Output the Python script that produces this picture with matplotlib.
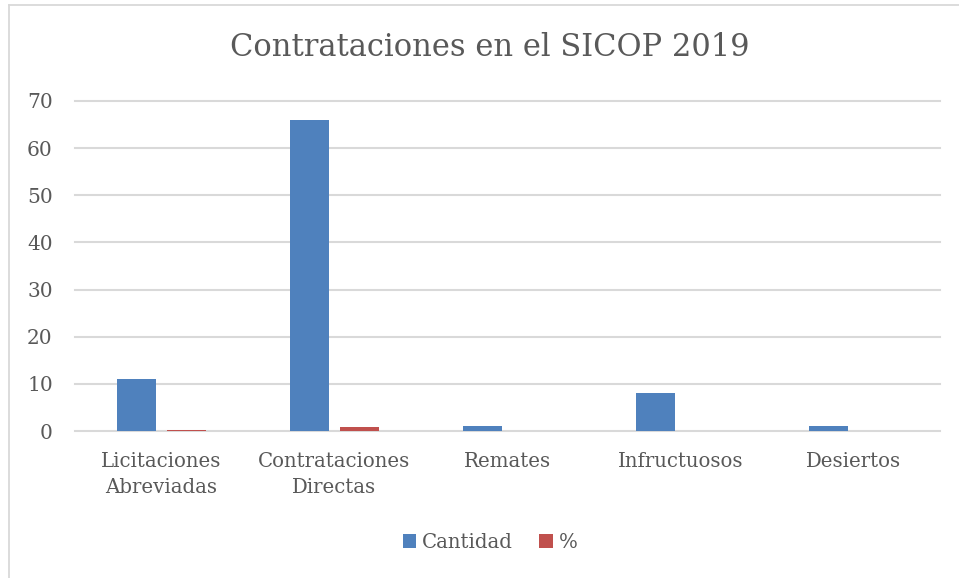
import numpy as np
import matplotlib
matplotlib.use('agg')
import matplotlib.pyplot as plt
from matplotlib.lines import Line2D

categories = ['Licitaciones\nAbreviadas', 'Contrataciones\nDirectas', 'Remates', 'Infructuosos', 'Desiertos']
cantidad = [11, 66, 1, 8, 1]
porcentaje = [0.13, 0.76, 0.01, 0.09, 0.01]
yticks = [0, 10, 20, 30, 40, 50, 60, 70]

txt = '#595959'
plt.rcParams['font.family'] = ['DejaVu Serif']

fig = plt.figure(figsize=(9.59, 5.78), dpi=100)
ax = fig.add_axes([0.0782, 0.2543, 0.902, 0.571])

x = np.arange(len(categories))
w = 0.225
ax.bar(x - 0.143, cantidad, w, color='#4F81BD', label='Cantidad', zorder=3)
ax.bar(x + 0.143, porcentaje, w, color='#C0504D', label='%', zorder=3)

ax.set_xlim(-0.5, len(categories) - 0.5)
ax.set_ylim(0, 70)
ax.set_yticks(yticks)
ax.set_xticks(x)
ax.set_xticklabels(categories, fontsize=14.2, color=txt, linespacing=1.45)
ax.tick_params(axis='y', labelsize=14.5, colors=txt, length=0, pad=16)
ax.tick_params(axis='x', length=0, pad=15)
ax.grid(axis='y', color='#D9D9D9', linewidth=1.5, zorder=0)
for gl in ax.get_ygridlines():
    gl.set_clip_on(False)
for s in ax.spines.values():
    s.set_visible(False)

fig.text(0.511, 1 - 48 / 578, 'Contrataciones en el SICOP 2019', ha='center', va='center',
         fontsize=22, color=txt)

leg = fig.legend(loc='center', bbox_to_anchor=(0.511, 0.061), ncol=2, frameon=False,
                 fontsize=14.2, handlelength=0.7, handleheight=0.7, handletextpad=0.3,
                 columnspacing=1.3)
for t in leg.get_texts():
    t.set_color(txt)

# chart area border (left and top edges visible)
fig.add_artist(Line2D([8.5 / 959, 8.5 / 959], [0, 1 - 4.5 / 578], transform=fig.transFigure,
                      color='#D9D9D9', linewidth=1.3))
fig.add_artist(Line2D([8.5 / 959, 1], [1 - 4.5 / 578, 1 - 4.5 / 578], transform=fig.transFigure,
                      color='#D9D9D9', linewidth=1.3))

fig.savefig('out.png', dpi=100)
